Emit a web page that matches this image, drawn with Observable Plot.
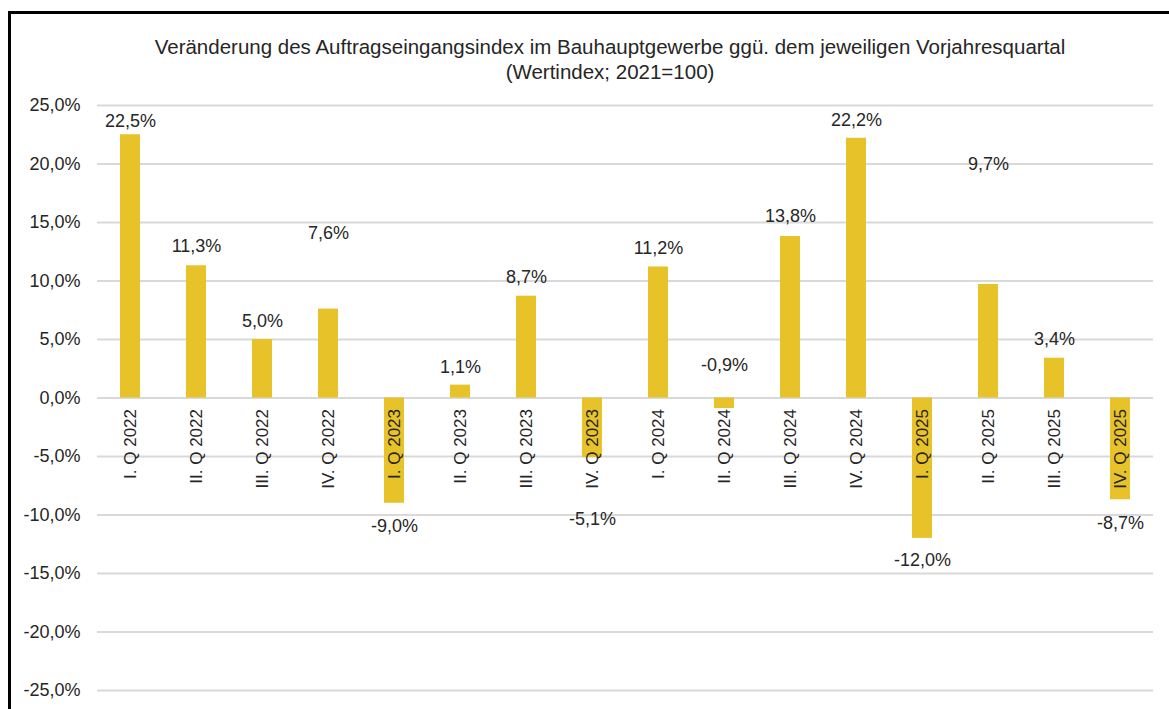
<!DOCTYPE html>
<html>
<head>
<meta charset="utf-8">
<script src="https://cdn.jsdelivr.net/npm/d3@7"></script>
<script src="https://cdn.jsdelivr.net/npm/@observablehq/plot@0.6"></script>
<style>
  html, body { margin: 0; padding: 0; background: #fff; overflow: hidden; width: 1169px; height: 709px; }
  #frame { position: absolute; left: 8px; top: 11px; width: 1300px; height: 900px;
           border-left: 3px solid #000; border-top: 3px solid #000; }
  #title { position: absolute; left: 0; width: 1220px; top: 34px; text-align: center;
           font-family: "Liberation Sans", Arial, sans-serif; font-size: 20.5px; line-height: 25px; color: #262626; }
  #chart { position: absolute; left: 0; top: 0; }
</style>
</head>
<body>
<div id="frame"></div>
<div id="title">Veränderung des Auftragseingangsindex im Bauhauptgewerbe ggü. dem jeweiligen Vorjahresquartal<br>(Wertindex; 2021=100)</div>
<div id="chart"></div>
<script>
const quarters = ["I. Q 2022","II. Q 2022","III. Q 2022","IV. Q 2022",
                  "I. Q 2023","II. Q 2023","III. Q 2023","IV. Q 2023",
                  "I. Q 2024","II. Q 2024","III. Q 2024","IV. Q 2024",
                  "I. Q 2025","II. Q 2025","III. Q 2025","IV. Q 2025"];
const changes = [22.5, 11.3, 5.0, 7.6, -9.0, 1.1, 8.7, -5.1, 11.2, -0.9, 13.8, 22.2, -12.0, 9.7, 3.4, -8.7];
const yTicks = [-25, -20, -15, -10, -5, 0, 5, 10, 15, 20, 25];

const data = quarters.map((q, i) => ({q, v: changes[i]}));
const fmt = d => d.toFixed(1).replace(".", ",") + "%";

// label placement (pixels from bar end), as in the original chart
const labelDy = {
  "I. Q 2022": -14, "II. Q 2022": -20, "III. Q 2022": -18.5, "IV. Q 2022": -76,
  "I. Q 2023": 23, "II. Q 2023": -18, "III. Q 2023": -19, "IV. Q 2023": 62,
  "I. Q 2024": -19, "II. Q 2024": -43, "III. Q 2024": -20, "IV. Q 2024": -18,
  "I. Q 2025": 22, "II. Q 2025": -120, "III. Q 2025": -19, "IV. Q 2025": 23
};

const font = "Liberation Sans, Arial, sans-serif";
const textColor = "#262626";

const labelMarks = data.map(d => Plot.text([d], {
  x: "q", y: "v", text: r => fmt(r.v), dy: labelDy[d.q],
  fill: textColor, fontSize: 18, lineAnchor: "middle", textAnchor: "middle"
}));

const chart = Plot.plot({
  width: 1169,
  height: 709,
  marginLeft: 97,
  marginRight: 16,
  marginTop: 105,
  marginBottom: 19,
  style: {fontFamily: font, fontSize: "17px", color: textColor, background: "transparent"},
  x: {domain: quarters, paddingInner: 0.697, paddingOuter: 0.3485, axis: null},
  y: {domain: [-25, 25], ticks: yTicks, tickFormat: fmt, tickSize: 0, tickPadding: 17, label: null},
  marks: [
    Plot.ruleY(yTicks, {stroke: "#d9d9d9", strokeWidth: 2}),
    Plot.barY(data, {x: "q", y: "v", fill: "#E8C229"}),
    Plot.text(data, {x: "q", y: () => 0, text: "q", rotate: -90, textAnchor: "end",
      lineAnchor: "middle", dy: 11, fill: textColor, fontSize: 17}),
    ...labelMarks,
    Plot.axisY({ticks: yTicks, tickFormat: fmt, tickSize: 0, tickPadding: 17, fontSize: 18, fill: textColor, label: null})
  ]
});
document.getElementById("chart").appendChild(chart);
</script>
</body>
</html>
